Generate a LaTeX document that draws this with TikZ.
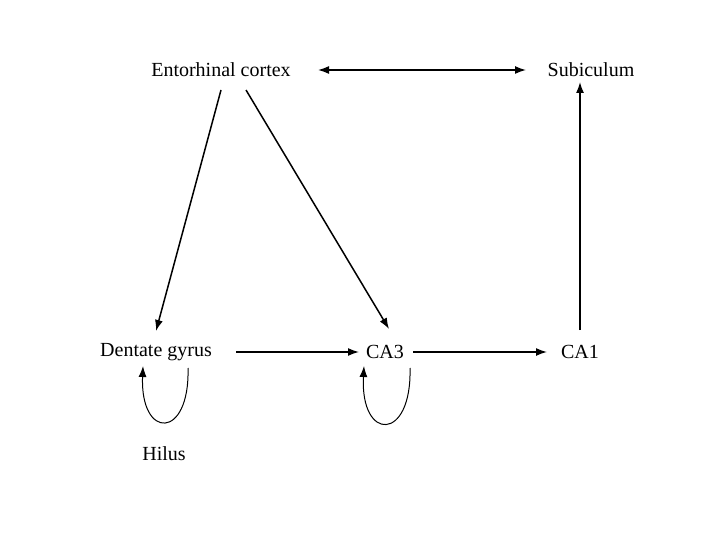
\documentclass[tikz,border=0pt]{standalone}
\usepackage{fontspec}
\setmainfont{Liberation Serif}
\usetikzlibrary{arrows.meta}
\begin{document}
\begin{tikzpicture}[x=1pt,y=-1pt,
  lbl/.style={font=\fontsize{20}{24}\selectfont,inner sep=0pt},
  arr/.style={line width=1.5pt,-{Latex[length=11pt,width=8pt]}},
  loop/.style={line width=1pt,-{Latex[length=11pt,width=8pt]}}]
\useasboundingbox (0,0) rectangle (720,540);
\node[lbl] (ec) at (221,70) {Entorhinal cortex};
\node[lbl] (sub) at (591,70) {Subiculum};
\node[lbl] (dg) at (156,352) {Dentate gyrus};
\node[lbl] (ca3) at (385,352) {CA3};
\node[lbl] (ca1) at (580,352) {CA1};
\node[lbl] (hil) at (164,454) {Hilus};
\coordinate (a1) at (318,70); \coordinate (a2) at (526,70);
\draw[line width=1.5pt,{Latex[length=11pt,width=8pt]}-{Latex[length=11pt,width=8pt]}] (a1) -- (a2);
\coordinate (e1) at (221,90); \coordinate (d1) at (156,331);
\draw[arr] (e1) -- (d1);
\coordinate (e2) at (246,90); \coordinate (c1) at (389,329);
\draw[arr] (e2) -- (c1);
\coordinate (d2) at (236,352); \coordinate (c2) at (359,352);
\draw[arr] (d2) -- (c2);
\coordinate (c3) at (413,352); \coordinate (c4) at (547,352);
\draw[arr] (c3) -- (c4);
\coordinate (f1) at (580,330); \coordinate (s1) at (580,82);
\draw[arr] (f1) -- (s1);
\coordinate (l1) at (188,368); \coordinate (l2) at (143,366);
\draw[loop] (l1) .. controls (190,440) and (140,440) .. (l2);
\coordinate (m1) at (410,368); \coordinate (m2) at (364,366);
\draw[loop] (m1) .. controls (412,442) and (360,442) .. (m2);
\end{tikzpicture}
\end{document}
